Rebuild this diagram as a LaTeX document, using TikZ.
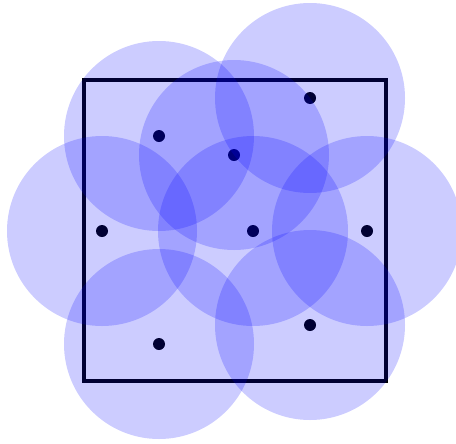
\documentclass[tikz,border=0pt]{standalone}
\begin{document}
\begin{tikzpicture}[x=0.75pt,y=-0.75pt,
  cover/.style={fill=blue,fill opacity=0.2,draw=none},
  pt/.style={fill=black,draw=none}]
\useasboundingbox (0,0) rectangle (456,443);
\clip (0,0) rectangle (456,443);
\draw[line width=2.3pt] (84,80) rectangle (386,381);
\foreach \x/\y in {310/98,159/136,234/155,102/231,253/231,367/231,310/325,159/344}{
  \fill[pt] (\x,\y) circle (6);
}
\foreach \x/\y in {310/98,159/136,234/155,102/231,253/231,367/231,310/325,159/344}{
  \fill[cover] (\x,\y) circle (95);
}
\end{tikzpicture}
\end{document}
